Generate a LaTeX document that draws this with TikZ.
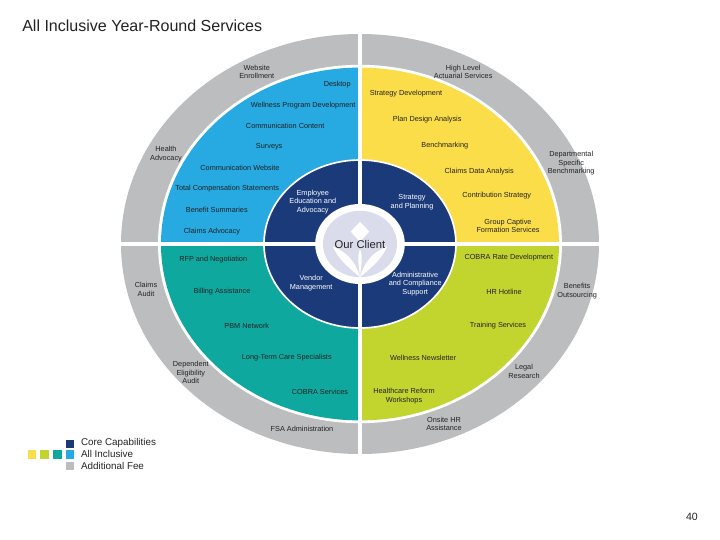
\documentclass[tikz,border=0pt]{standalone}
\usepackage{fontspec}
\setmainfont{Liberation Sans}
\definecolor{navycore}{HTML}{1B3A7A}
\definecolor{blueinc}{HTML}{27A9E1}
\definecolor{yellowinc}{HTML}{FBDD4A}
\definecolor{limeinc}{HTML}{C2D52F}
\definecolor{tealinc}{HTML}{0FA89E}
\definecolor{greyfee}{HTML}{BBBDBF}
\definecolor{lavlogo}{HTML}{DADCEC}
\definecolor{inktext}{HTML}{222222}
\begin{document}
\begin{tikzpicture}[
        font=\fontsize{5.2}{6.1}\selectfont,
        lbl/.style={text=inktext, align=center, inner sep=0pt},
        corelbl/.style={text=white, align=center, inner sep=0pt},
        swatch/.style={minimum size=0.22cm, inner sep=0pt},
        keylbl/.style={text=inktext, anchor=west, inner sep=0pt, font=\fontsize{7}{8}\selectfont}
    ]
    \useasboundingbox (-9,-7.4) rectangle (9,6.1);

    % The Rings
    \fill[greyfee] (0,0) ellipse [x radius=5.975, y radius=5.25];
    \fill[white] (0,0) ellipse [x radius=5.05, y radius=4.48];
    \fill[blueinc] (0,0) -- (-4.975,0) arc [start angle=180, end angle=90, x radius=4.975, y radius=4.41] -- cycle;
    \fill[yellowinc] (0,0) -- (0,4.41) arc [start angle=90, end angle=0, x radius=4.975, y radius=4.41] -- cycle;
    \fill[limeinc] (0,0) -- (4.975,0) arc [start angle=0, end angle=-90, x radius=4.975, y radius=4.41] -- cycle;
    \fill[tealinc] (0,0) -- (0,-4.41) arc [start angle=-90, end angle=-180, x radius=4.975, y radius=4.41] -- cycle;
    \fill[navycore, draw=white, line width=1.2pt] (0,0) ellipse [x radius=2.4, y radius=2.1];

    % The Cross
    \draw[white, line width=2.2pt] (-6.05,0) -- (6.05,0);
    \draw[white, line width=2.8pt] (0,5.3) -- (0,-5.3);

    % The Centre
    \fill[white] (0,0) ellipse [x radius=1.12, y radius=1.0];
    \fill[lavlogo] (0,0) ellipse [x radius=0.925, y radius=0.83];
    \fill[white] (0,0.56) -- (0.23,0.31) -- (0,0.05) -- (-0.23,0.31) -- cycle;
    \fill[white] (0,-0.83) .. controls (-0.12,-0.4) and (-0.35,-0.2) .. (-0.68,-0.06) .. controls (-0.52,-0.42) and (-0.28,-0.58) .. (0,-0.83);
    \fill[white] (0,-0.83) .. controls (0.12,-0.4) and (0.35,-0.2) .. (0.68,-0.06) .. controls (0.52,-0.42) and (0.28,-0.58) .. (0,-0.83);
    \fill[white] (0,-0.83) .. controls (-0.03,-0.5) and (-0.08,-0.35) .. (0,-0.12) .. controls (0.08,-0.35) and (0.03,-0.5) .. (0,-0.83);
    \node[lbl, font=\fontsize{8}{9}\selectfont] (client) at (0,0) {Our Client};

    % Core Capabilities
    \node[corelbl] (employee) at (-1.18,1.05) {Employee\\Education and\\Advocacy}; \node[corelbl] (strategy) at (1.3,1.05) {Strategy\\and Planning};
    \node[corelbl] (vendor) at (-1.22,-0.98) {Vendor\\Management}; \node[corelbl] (admin) at (1.38,-1.0) {Administrative\\and Compliance\\Support};

    % Blue Quarter
    \node[lbl] (desktop) at (-0.57,3.98) {Desktop}; \node[lbl] (wellprog) at (-1.42,3.45) {Wellness Program Development};
    \node[lbl] (commcontent) at (-1.87,2.95) {Communication Content}; \node[lbl] (surveys) at (-2.27,2.42) {Surveys};
    \node[lbl] (commweb) at (-3.0,1.9) {Communication Website}; \node[lbl] (totalcomp) at (-3.32,1.38) {Total Compensation Statements};
    \node[lbl] (benefit) at (-3.58,0.85) {Benefit Summaries}; \node[lbl] (claimsadv) at (-3.7,0.32) {Claims Advocacy};

    % Yellow Quarter
    \node[lbl] (stratdev) at (1.15,3.75) {Strategy Development}; \node[lbl] (plan) at (1.68,3.12) {Plan Design Analysis};
    \node[lbl] (bench) at (2.12,2.45) {Benchmarking}; \node[lbl] (claimsdata) at (2.98,1.8) {Claims Data Analysis};
    \node[lbl] (contrib) at (3.42,1.2) {Contribution Strategy}; \node[lbl] (group) at (3.7,0.45) {Group Captive\\Formation Services};

    % Lime Quarter
    \node[lbl] (cobrarate) at (3.72,-0.35) {COBRA Rate Development}; \node[lbl] (hotline) at (3.6,-1.2) {HR Hotline};
    \node[lbl] (training) at (3.45,-2.03) {Training Services}; \node[lbl] (newsletter) at (1.58,-2.85) {Wellness Newsletter};
    \node[lbl] (reform) at (1.1,-3.8) {Healthcare Reform\\Workshops};

    % Teal Quarter
    \node[lbl] (rfp) at (-3.67,-0.4) {RFP and Negotiation}; \node[lbl] (billing) at (-3.45,-1.2) {Billing Assistance};
    \node[lbl] (network) at (-2.83,-2.05) {PBM Network}; \node[lbl] (longterm) at (-1.83,-2.85) {Long-Term Care Specialists};
    \node[lbl] (cobraserv) at (-1.0,-3.7) {COBRA Services};

    % Additional Fee
    \node[lbl] (website) at (-2.58,4.3) {Website\\Enrollment}; \node[lbl] (health) at (-4.85,2.25) {Health\\Advocacy};
    \node[lbl] (highlevel) at (2.58,4.3) {High Level\\Actuarial Services}; \node[lbl] (dept) at (5.28,2.02) {Departmental\\Specific\\Benchmarking};
    \node[lbl] (outsource) at (5.43,-1.18) {Benefits\\Outsourcing}; \node[lbl] (legal) at (4.1,-3.18) {Legal\\Research};
    \node[lbl] (onsite) at (2.1,-4.5) {Onsite HR\\Assistance}; \node[lbl] (fsa) at (-1.45,-4.63) {FSA Administration};
    \node[lbl] (dependent) at (-4.23,-3.22) {Dependent\\Eligibility\\Audit}; \node[lbl] (claimsaud) at (-5.35,-1.13) {Claims\\Audit};

    % Legend
    \node[swatch, fill=navycore] (keycore) at (-7.25,-5.0) {}; \node[swatch, fill=blueinc] (keyblue) at (-7.25,-5.27) {}; \node[swatch, fill=greyfee] (keygrey) at (-7.25,-5.55) {};
    \node[swatch, fill=tealinc] (keyteal) at (-7.56,-5.27) {}; \node[swatch, fill=limeinc] (keylime) at (-7.88,-5.27) {}; \node[swatch, fill=yellowinc] (keyyellow) at (-8.2,-5.27) {};
    \node[keylbl] (txtcore) at (-6.98,-4.98) {Core Capabilities}; \node[keylbl] (txtblue) at (-6.98,-5.26) {All Inclusive}; \node[keylbl] (txtgrey) at (-6.98,-5.55) {Additional Fee};

    % Title and Page
    \node[lbl, anchor=west, font=\fontsize{11.4}{13}\selectfont] (title) at (-8.45,5.45) {All Inclusive Year-Round Services};
    \node[lbl, font=\fontsize{7.5}{9}\selectfont] (page) at (8.3,-6.83) {40};
\end{tikzpicture}
\end{document}
